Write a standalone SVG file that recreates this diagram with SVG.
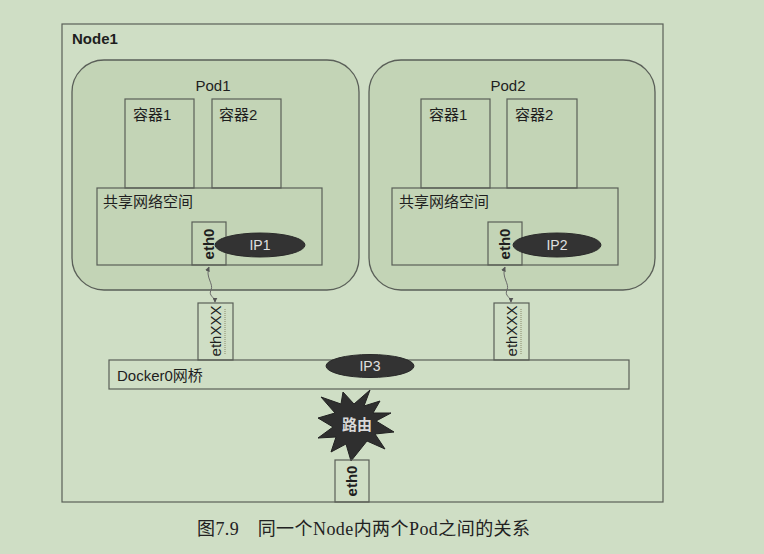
<svg xmlns="http://www.w3.org/2000/svg" width="764" height="554" viewBox="0 0 764 554">
<style>
.bx{fill:none;stroke:#5a5f58;stroke-width:1.2}
.pod{fill:#c3d4b6;stroke:#5a5f58;stroke-width:1.3}
.t{font-family:"Liberation Sans","Noto Sans CJK SC",sans-serif;font-size:15px;fill:#1e1e1e}
.b{font-weight:bold}
.ip{fill:#333;stroke:#2a2a2a}
.ipt{font-family:"Liberation Sans",sans-serif;font-size:14px;fill:#e0e0e0;text-anchor:middle}
.ln{fill:none;stroke:#6a6a6a;stroke-width:1}
</style>
<defs>
<marker id="ah" viewBox="0 0 8 8" refX="7" refY="4" markerWidth="5" markerHeight="5" orient="auto-start-reverse">
<path d="M0,0 L8,4 L0,8 z" fill="#555"/>
</marker>
</defs>
<rect width="764" height="554" fill="#cfdec5"/>
<g id="node1">
<rect x="62" y="24" width="601" height="478" class="bx"/>
<text x="72" y="44" class="t b" font-size="14">Node1</text>
</g>
<g id="pod1">
<rect x="72" y="60" width="287" height="230" rx="32" class="pod"/>
<text x="213" y="91" class="t" text-anchor="middle">Pod1</text>
</g>
<g id="pod1-c1"><rect x="125" y="99" width="69" height="89" class="bx"/><text x="133" y="120" class="t" font-size="16">容器1</text></g>
<g id="pod1-c2"><rect x="212" y="99" width="69" height="89" class="bx"/><text x="219" y="120" class="t" font-size="16">容器2</text></g>
<g id="pod1-net"><rect x="97" y="188" width="225" height="77" class="bx"/><text x="103" y="207" class="t" font-size="16">共享网络空间</text></g>
<g id="pod1-eth0"><rect x="192" y="222" width="34" height="43" class="bx"/><text transform="translate(214,244) rotate(-90)" class="t b" text-anchor="middle" font-size="14">eth0</text></g>
<g id="pod1-ip1"><ellipse cx="260" cy="245" rx="45" ry="12" class="ip"/><text x="260" y="250" class="ipt">IP1</text></g>
<g id="pod2">
<rect x="369" y="60" width="286" height="230" rx="32" class="pod"/>
<text x="508" y="91" class="t" text-anchor="middle">Pod2</text>
</g>
<g id="pod2-c1"><rect x="421" y="99" width="69" height="89" class="bx"/><text x="429" y="120" class="t" font-size="16">容器1</text></g>
<g id="pod2-c2"><rect x="507" y="99" width="70" height="89" class="bx"/><text x="515" y="120" class="t" font-size="16">容器2</text></g>
<g id="pod2-net"><rect x="392" y="188" width="226" height="77" class="bx"/><text x="399" y="207" class="t" font-size="16">共享网络空间</text></g>
<g id="pod2-eth0"><rect x="488" y="222" width="34" height="43" class="bx"/><text transform="translate(510,244) rotate(-90)" class="t b" text-anchor="middle" font-size="14">eth0</text></g>
<g id="pod2-ip2"><ellipse cx="557" cy="245" rx="44" ry="12" class="ip"/><text x="557" y="250" class="ipt">IP2</text></g>
<g id="ethxxx1"><rect x="198" y="303" width="35" height="57" class="bx"/><text transform="translate(221,331) rotate(-90)" class="t" text-anchor="middle" font-size="14">ethXXX</text><line x1="225" y1="309" x2="225" y2="354" stroke="#8a8a6a" stroke-width="1" stroke-dasharray="1,1"/></g>
<g id="ethxxx2"><rect x="494" y="303" width="35" height="57" class="bx"/><text transform="translate(517,331) rotate(-90)" class="t" text-anchor="middle" font-size="14">ethXXX</text><line x1="521" y1="309" x2="521" y2="354" stroke="#8a8a6a" stroke-width="1" stroke-dasharray="1,1"/></g>
<g id="docker0"><rect x="109" y="360" width="520" height="29" fill="#d0dfc6" class="bx"/><text x="117" y="381" class="t">Docker0网桥</text></g>
<g id="ip3"><ellipse cx="370" cy="366" rx="44" ry="11.5" class="ip"/><text x="370" y="371" class="ipt">IP3</text></g>
<g id="router">
<polygon points="370,390 364,406 380,401 373,413 391,413 376,421 394,432 375,434 385,449 367,441 351,461 346,444 331,452 336,437 318,438 333,427 318,418 335,413 321,397 341,404 343,392 354,404" fill="#2f2f2f" stroke="#222"/>
<text x="357" y="430" font-family="'Noto Sans CJK SC',sans-serif" font-size="15" font-weight="bold" fill="#d8d8d8" text-anchor="middle">路由</text>
</g>
<g id="host-eth0"><rect x="335" y="460" width="34" height="42" class="bx"/><text transform="translate(357,481) rotate(-90)" class="t b" text-anchor="middle" font-size="14">eth0</text></g>
<g id="connectors">
<path d="M209,267 C205,277 214,284 211,290 S215,297 215,302" class="ln" marker-start="url(#ah)" marker-end="url(#ah)"/>
<path d="M505,267 C501,277 510,284 507,290 S511,297 511,302" class="ln" marker-start="url(#ah)" marker-end="url(#ah)"/>
</g>
<text x="197" y="535" font-family="'Liberation Serif','Noto Sans CJK SC',serif" font-size="18" fill="#222" textLength="333">图7.9　同一个Node内两个Pod之间的关系</text>
</svg>
